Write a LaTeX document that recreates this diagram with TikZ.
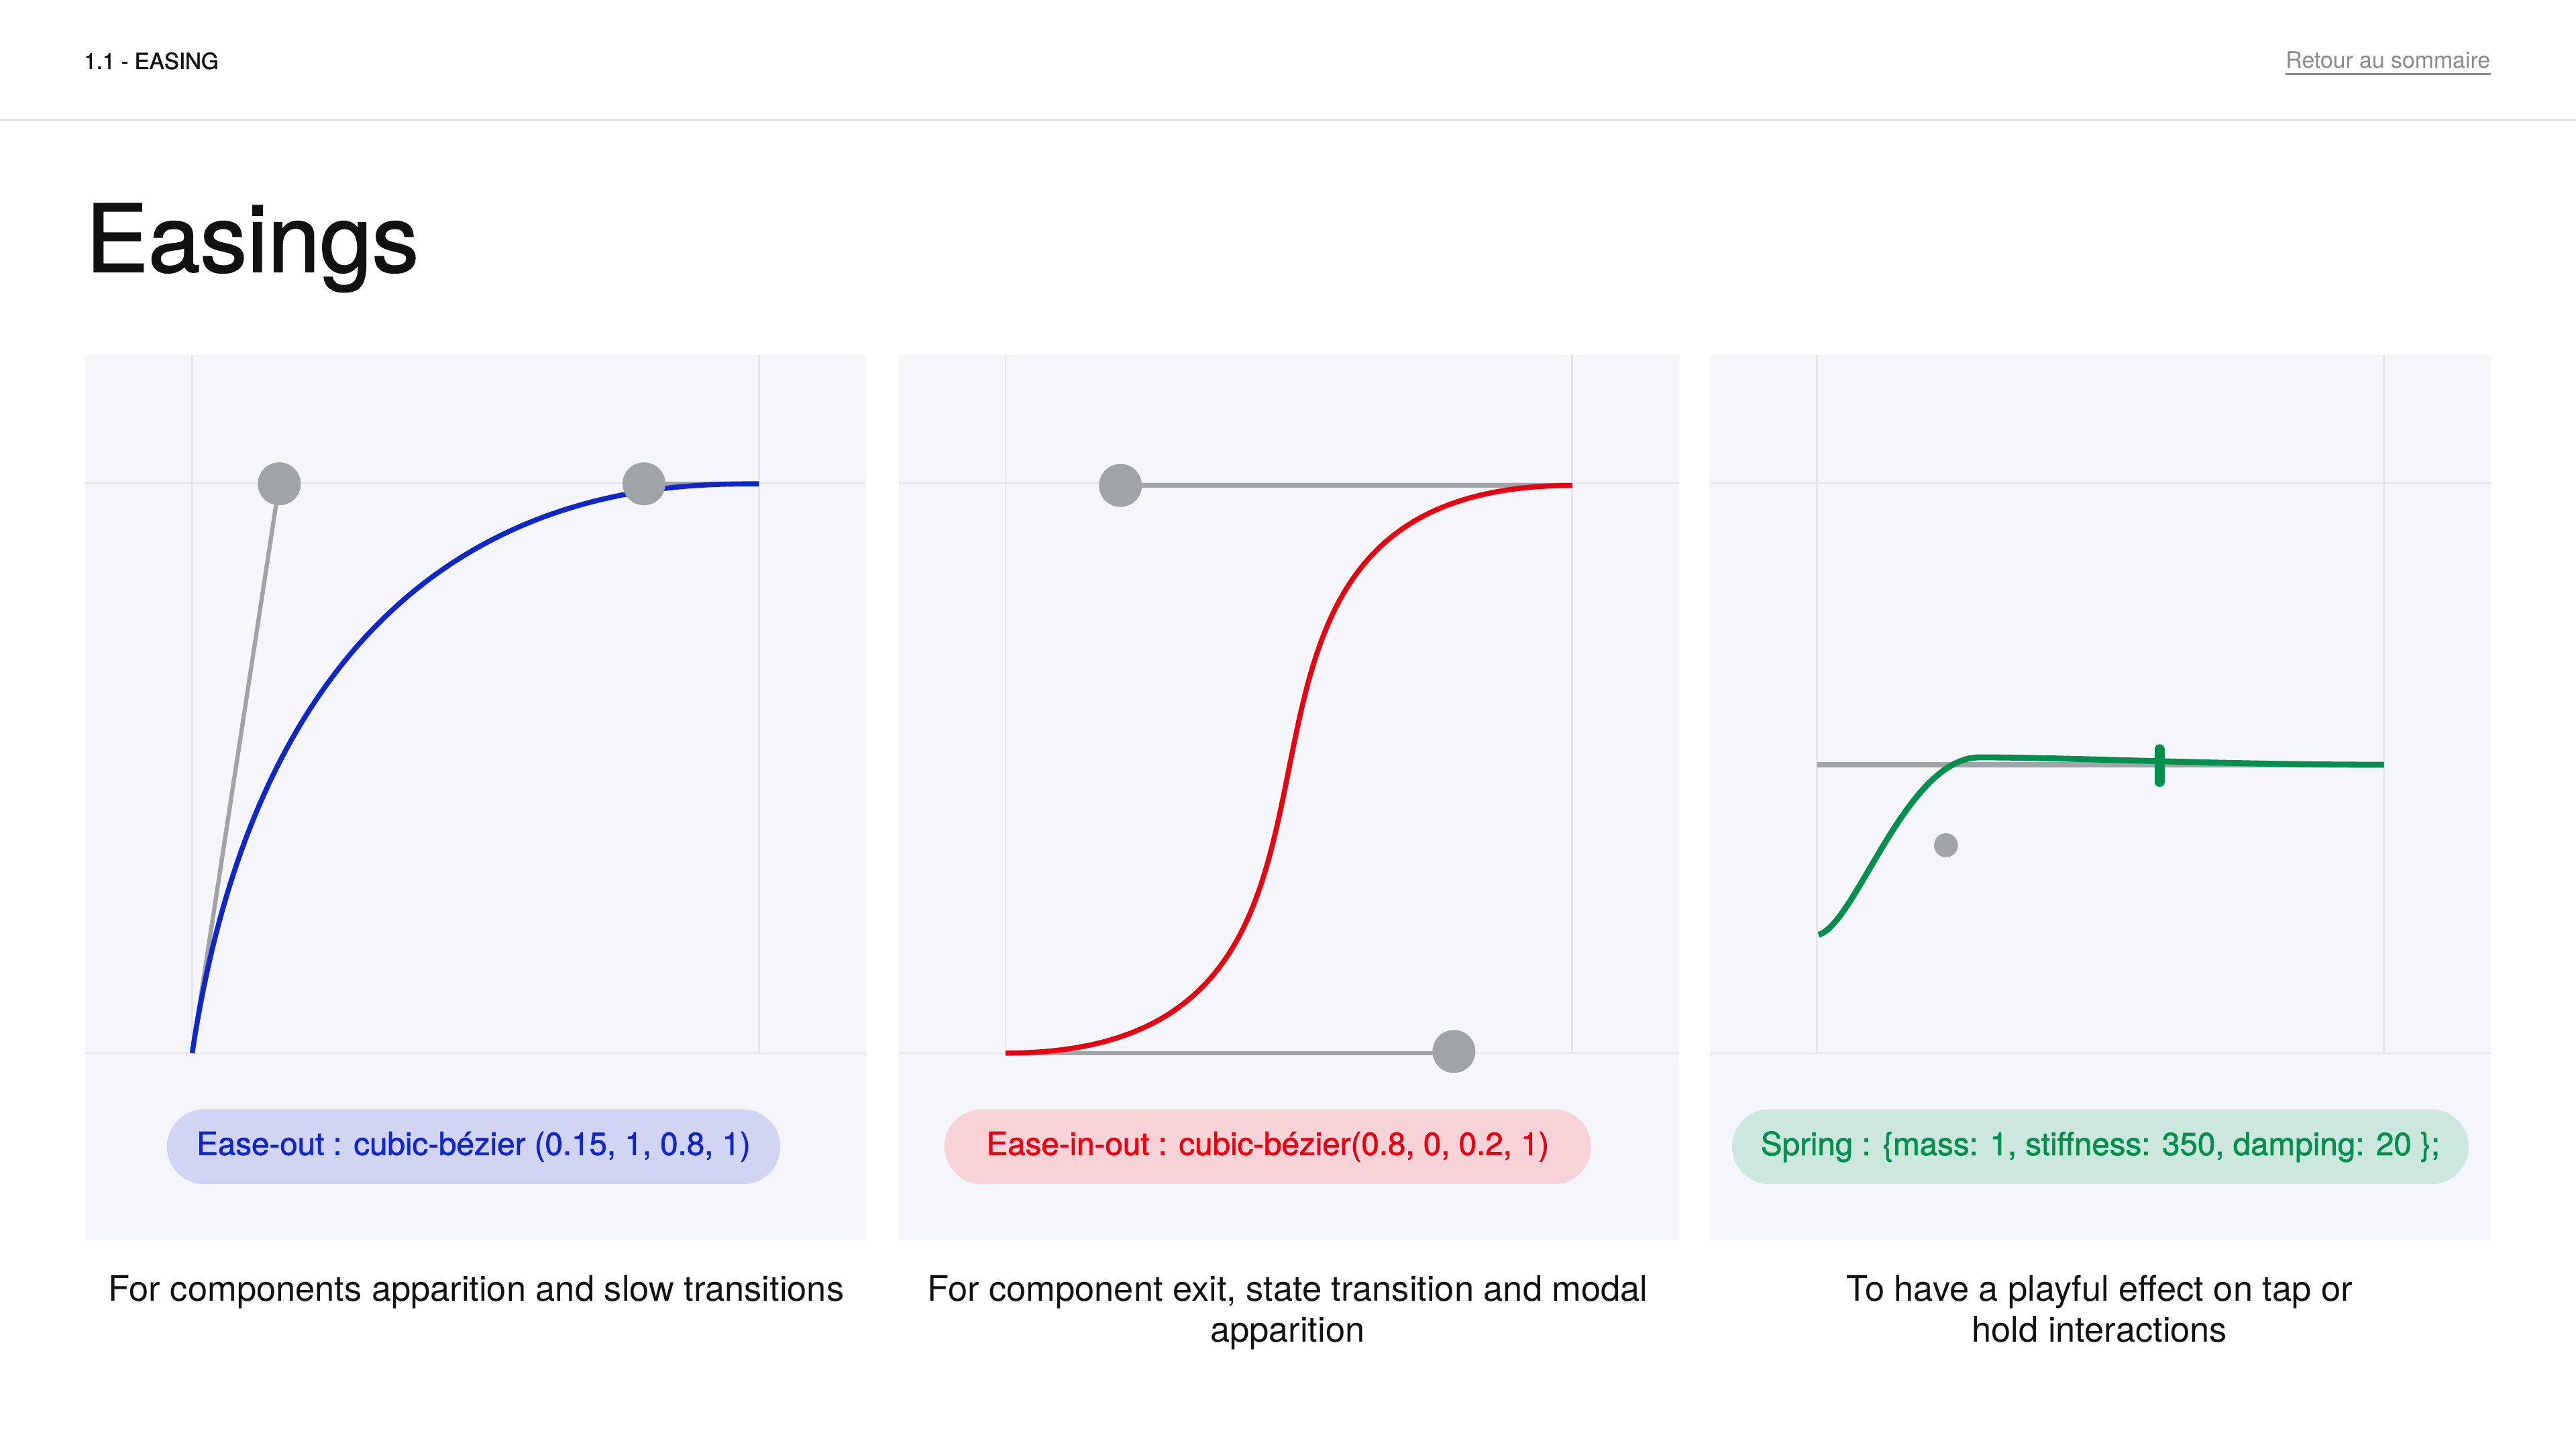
\documentclass[tikz,border=0pt]{standalone}
\usepackage{fontspec}
\setmainfont{TeX Gyre Heros}
\newfontfamily\mediumfont[FakeBold=1.4]{TeX Gyre Heros}
\usetikzlibrary{positioning}

\definecolor{panelbg}{HTML}{F5F6FA}
\definecolor{gridline}{HTML}{E3E6EC}
\definecolor{handle}{HTML}{A0A4A7}
\definecolor{easeblue}{HTML}{1126C8}
\definecolor{easered}{HTML}{E80010}
\definecolor{easegreen}{HTML}{008F4C}
\definecolor{pillblue}{HTML}{D1D5F3}
\definecolor{pillred}{HTML}{F7D3D8}
\definecolor{pillgreen}{HTML}{CCE7DE}
\definecolor{inkdark}{HTML}{111111}
\definecolor{linkgray}{HTML}{8A8A8A}
\definecolor{rulegray}{HTML}{E6E6E6}

\tikzset{
  grid line/.style={draw=gridline, line width=1pt},
  handle bar/.style={draw=handle, line width=2.6pt},
  knob/.style={circle, fill=handle, inner sep=0pt, minimum size=26pt},
  curve/.style={line width=3.1pt},
  pill/.style={rounded corners=22.8pt, minimum height=45.6pt, inner sep=0pt,
    font=\mediumfont\fontsize{19.4}{22}\selectfont},
  caption/.style={align=center, anchor=base, inner sep=0pt, text=inkdark,
    font=\fontsize{21.4}{25}\selectfont},
}

\begin{document}
\begin{tikzpicture}[x=1pt, y=-1pt]
  \useasboundingbox[fill=white] (0,0) rectangle (1568,882);

  \node[anchor=base west, inner sep=0pt, text=inkdark, font=\mediumfont\fontsize{13.5}{16}\selectfont] (section) at (51,42) {1.1 - EASING};
  \node[anchor=base east, inner sep=0pt, text=linkgray, font=\fontsize{13.8}{16}\selectfont] (backlink) at (1516,41.5) {Retour au sommaire};
  \draw[linkgray, line width=1.1pt] ([yshift=-3.5pt]backlink.base west) -- ([yshift=-3.5pt]backlink.base east);
  \draw[rulegray, line width=1.2pt] (0,73) -- (1568,73);
  \node[anchor=base west, inner sep=0pt, text=inkdark, font=\mediumfont\fontsize{57}{64}\selectfont] (title) at (52,165.4) {Easings};

  \foreach \px in {52,547,1041} {
    \fill[panelbg] (\px,216) rectangle ++(475,539);
    \draw[grid line] (\px,294) -- ++(475,0) (\px,641) -- ++(475,0);
    \draw[grid line] (\px+65,216) -- (\px+65,641) (\px+410,216) -- (\px+410,641);
  }

  \coordinate (startout) at (117,641);
  \coordinate (endout) at (462,294.5);
  \node[knob] (outa) at (170,294.5) {};
  \node[knob] (outb) at (392,294.5) {};
  \draw[handle bar] (startout) -- (outa.center);
  \draw[handle bar] (outb.center) -- (endout);
  \draw[curve, easeblue] (startout) .. controls (168.75,294.5) and (393,294.5) .. (endout);
  \node[knob] at (outa) {};
  \node[knob] at (outb) {};

  \coordinate (startinout) at (612,641);
  \coordinate (endinout) at (957,295.5);
  \node[knob] (inouta) at (885,640) {};
  \node[knob] (inoutb) at (682,295.5) {};
  \draw[handle bar] (startinout) -- (startinout -| inouta);
  \draw[handle bar] (inoutb.center) -- (endinout);
  \draw[curve, easered] (startinout) .. controls (888,641) and (681,295.5) .. (endinout);
  \node[knob] at (inouta) {};
  \node[knob] at (inoutb) {};

  \coordinate (restleft) at (1106,465.5);
  \coordinate (restright) at (1451,465.5);
  \coordinate (springstart) at (1107,569);
  \coordinate (springpeak) at (1205,461);
  \coordinate (springtick) at (1314.5,466);
  \draw[draw=handle, line width=3.4pt] (restleft) -- (restright);
  \draw[easegreen, line width=3.6pt] (springstart) .. controls (1130,562) and (1160,461) .. (springpeak)
    .. controls (1260,461) and (1350,465.5) .. (restright);
  \draw[easegreen, line width=6pt, line cap=round] ([yshift=10pt]springtick) -- ([yshift=-10pt]springtick);
  \node[knob, minimum size=14.6pt] (springmass) at (1184.5,514.5) {};

  \node[pill, fill=pillblue, text=easeblue, minimum width=373.5pt] (pillout) at (288.3,698) {Ease-out : cubic-bézier (0.15, 1, 0.8, 1)};
  \node[pill, fill=pillred, text=easered, minimum width=393.7pt] (pillinout) at (771.7,698) {Ease-in-out : cubic-bézier(0.8, 0, 0.2, 1)};
  \node[pill, fill=pillgreen, text=easegreen, minimum width=448.4pt] (pillspring) at (1278.5,698) {Spring : \{mass: 1, stiffness: 350, damping: 20 \};};

  \node[caption] (capout) at (289.9,791.8) {For components apparition and slow transitions};
  \node[caption] (capinout) at (783.7,816.8) {For component exit, state transition and modal\\apparition};
  \node[caption] (capspring) at (1278,816.8) {To have a playful effect on tap or\\hold interactions};
\end{tikzpicture}
\end{document}
